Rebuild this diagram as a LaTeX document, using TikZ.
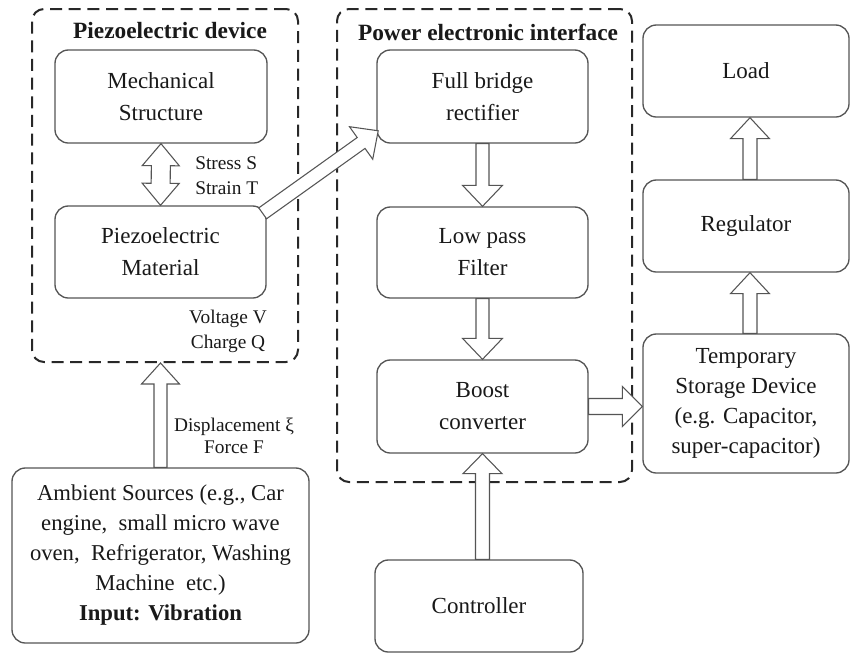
\documentclass[tikz,border=0pt]{standalone}
\usepackage{fontspec}
\setmainfont{LiberationSerif}[Extension=.ttf, UprightFont=*-Regular, BoldFont=*-Bold,
  ItalicFont=*-Italic, BoldItalicFont=*-BoldItalic]
\usetikzlibrary{calc}

\newdimen\pxu
\pxu=0.75pt

\definecolor{boxline}{RGB}{85,85,85}
\definecolor{dashline}{RGB}{40,40,40}
\definecolor{ink}{RGB}{25,25,25}

% hollow block arrow: from, to, shaft half-width, head half-width, head length
\newcommand{\fatarrow}[5]{%
  \path (#1); \pgfgetlastxy{\fax}{\fay}%
  \path (#2); \pgfgetlastxy{\fbx}{\fby}%
  \pgfmathsetmacro\fang{atan2(\fby-\fay,\fbx-\fax)}%
  \pgfmathsetmacro\flen{veclen(\fbx-\fax,\fby-\fay)}%
  \begin{scope}[shift={(\fax,\fay)}, rotate=\fang]
    \draw[fatline] (0pt,-#3\pxu) -- (\flen pt-#5\pxu,-#3\pxu) -- (\flen pt-#5\pxu,-#4\pxu)
      -- (\flen pt,0pt) -- (\flen pt-#5\pxu,#4\pxu) -- (\flen pt-#5\pxu,#3\pxu)
      -- (0pt,#3\pxu) -- cycle;
  \end{scope}}

% hollow block arrow with a head at both ends
\newcommand{\dfatarrow}[5]{%
  \path (#1); \pgfgetlastxy{\fax}{\fay}%
  \path (#2); \pgfgetlastxy{\fbx}{\fby}%
  \pgfmathsetmacro\fang{atan2(\fby-\fay,\fbx-\fax)}%
  \pgfmathsetmacro\flen{veclen(\fbx-\fax,\fby-\fay)}%
  \begin{scope}[shift={(\fax,\fay)}, rotate=\fang]
    \draw[fatline] (0pt,0pt) -- (#5\pxu,-#4\pxu) -- (#5\pxu,-#3\pxu)
      -- (\flen pt-#5\pxu,-#3\pxu) -- (\flen pt-#5\pxu,-#4\pxu)
      -- (\flen pt,0pt) -- (\flen pt-#5\pxu,#4\pxu) -- (\flen pt-#5\pxu,#3\pxu)
      -- (#5\pxu,#3\pxu) -- (#5\pxu,#4\pxu) -- cycle;
  \end{scope}}

\tikzset{
  blockbox/.style={draw=boxline, line width=1pt, rounded corners=10pt, fill=white,
    align=center, text=ink, inner sep=2pt,
    font={\fontsize{17.25}{24}\selectfont}},
  groupbox/.style={draw=dashline, line width=1.5pt, rounded corners=9pt,
    dash pattern=on 9pt off 5pt},
  grouptitle/.style={text=ink, font={\fontsize{17.5}{21}\selectfont\bfseries}},
  sidelabel/.style={text=ink, inner sep=0pt, font={\fontsize{14.5}{18.75}\selectfont}},
  fatline/.style={draw=boxline, line width=0.8pt, fill=white, line join=miter},
}

\begin{document}
\begin{tikzpicture}[x=0.75pt, y=-0.75pt]
  \useasboundingbox (0,0) rectangle (851,654);
  \fill[white] (0,0) rectangle (851,654);

  % group frames
  \node[groupbox, minimum width=266\pxu, minimum height=353\pxu] (dev) at (165,185.5) {};
  \node[groupbox, minimum width=295\pxu, minimum height=473\pxu] (pei) at (484.5,245.5) {};
  \node[grouptitle] (devtitle) at (170,31) {Piezoelectric device};
  \node[grouptitle] (peititle) at (488,32) {Power electronic interface};

  % piezoelectric device
  \node[blockbox, minimum width=212\pxu, minimum height=93\pxu] (mech) at (161,96.5) {Mechanical\\Structure};
  \node[blockbox, minimum width=211\pxu, minimum height=92\pxu] (piezo) at (160.5,252) {Piezoelectric\\Material};

  % ambient source
  \node[blockbox, minimum width=297\pxu, minimum height=175\pxu,
        font={\fontsize{17}{22.5}\selectfont}] (amb) at (160.5,555.5)
    {Ambient Sources (e.g., Car\\engine, \ small micro wave\\oven, \ Refrigerator, Washing\\Machine \ etc.)\\\textbf{Input: Vibration}};

  % power electronic interface
  \node[blockbox, minimum width=211\pxu, minimum height=93\pxu] (fbr) at (482.5,96.5) {Full bridge\\rectifier};
  \node[blockbox, minimum width=211\pxu, minimum height=91\pxu] (lpf) at (482.5,252.5) {Low pass\\Filter};
  \node[blockbox, minimum width=211\pxu, minimum height=93\pxu] (boost) at (482.5,406.5) {Boost\\converter};
  \node[blockbox, minimum width=208\pxu, minimum height=92\pxu] (ctrl) at (479,606) {Controller};

  % storage and load chain
  \node[blockbox, minimum width=206\pxu, minimum height=92\pxu] (load) at (746,71) {Load};
  \node[blockbox, minimum width=206\pxu, minimum height=92\pxu] (reg) at (746,226) {Regulator};
  \node[blockbox, minimum width=206\pxu, minimum height=139\pxu,
        font={\fontsize{17.25}{22.5}\selectfont}] (temp) at (746,403.5)
    {Temporary\\Storage Device\\(e.g. Capacitor,\\super-capacitor)};

  % side labels
  \node[sidelabel, anchor=west, align=left] (stress) at (195,176) {Stress S\\Strain T};
  \node[sidelabel, align=center] (volt) at (228,331) {Voltage V\\Charge Q};
  \node[sidelabel, align=center, font={\fontsize{14.5}{16.5}\selectfont}] (disp) at (234,436) {Displacement ξ\\Force F};

  % connector end points
  \coordinate (devin) at (amb.north |- dev.south);
  \coordinate (pztail) at ($(piezo.north east)+(-4,8)$);
  \coordinate (fbrin) at ($(fbr.south west)+(2,-13)$);
  \coordinate (ctrlout) at (boost.south |- ctrl.north);
  \coordinate (tempin) at (boost.east -| temp.west);
  \coordinate (tempout) at ($(temp.north)+(4,0)$);
  \coordinate (regin) at ($(reg.south)+(4,0)$);
  \coordinate (regout) at ($(reg.north)+(4,0)$);
  \coordinate (loadin) at ($(load.south)+(4,0)$);

  % block arrows
  \dfatarrow{mech.south}{piezo.north}{9.5}{18.5}{22}
  \fatarrow{amb.north}{devin}{6.5}{19}{21}
  \fatarrow{pztail}{fbrin}{6.7}{20}{21}
  \fatarrow{fbr.south}{lpf.north}{6.5}{20}{21}
  \fatarrow{lpf.south}{boost.north}{6.5}{20}{21}
  \fatarrow{ctrlout}{boost.south}{7}{19.5}{20}
  \fatarrow{boost.east}{tempin}{8}{20}{20}
  \fatarrow{tempout}{regin}{7}{19.5}{21}
  \fatarrow{regout}{loadin}{7}{19.5}{21}
\end{tikzpicture}
\end{document}
